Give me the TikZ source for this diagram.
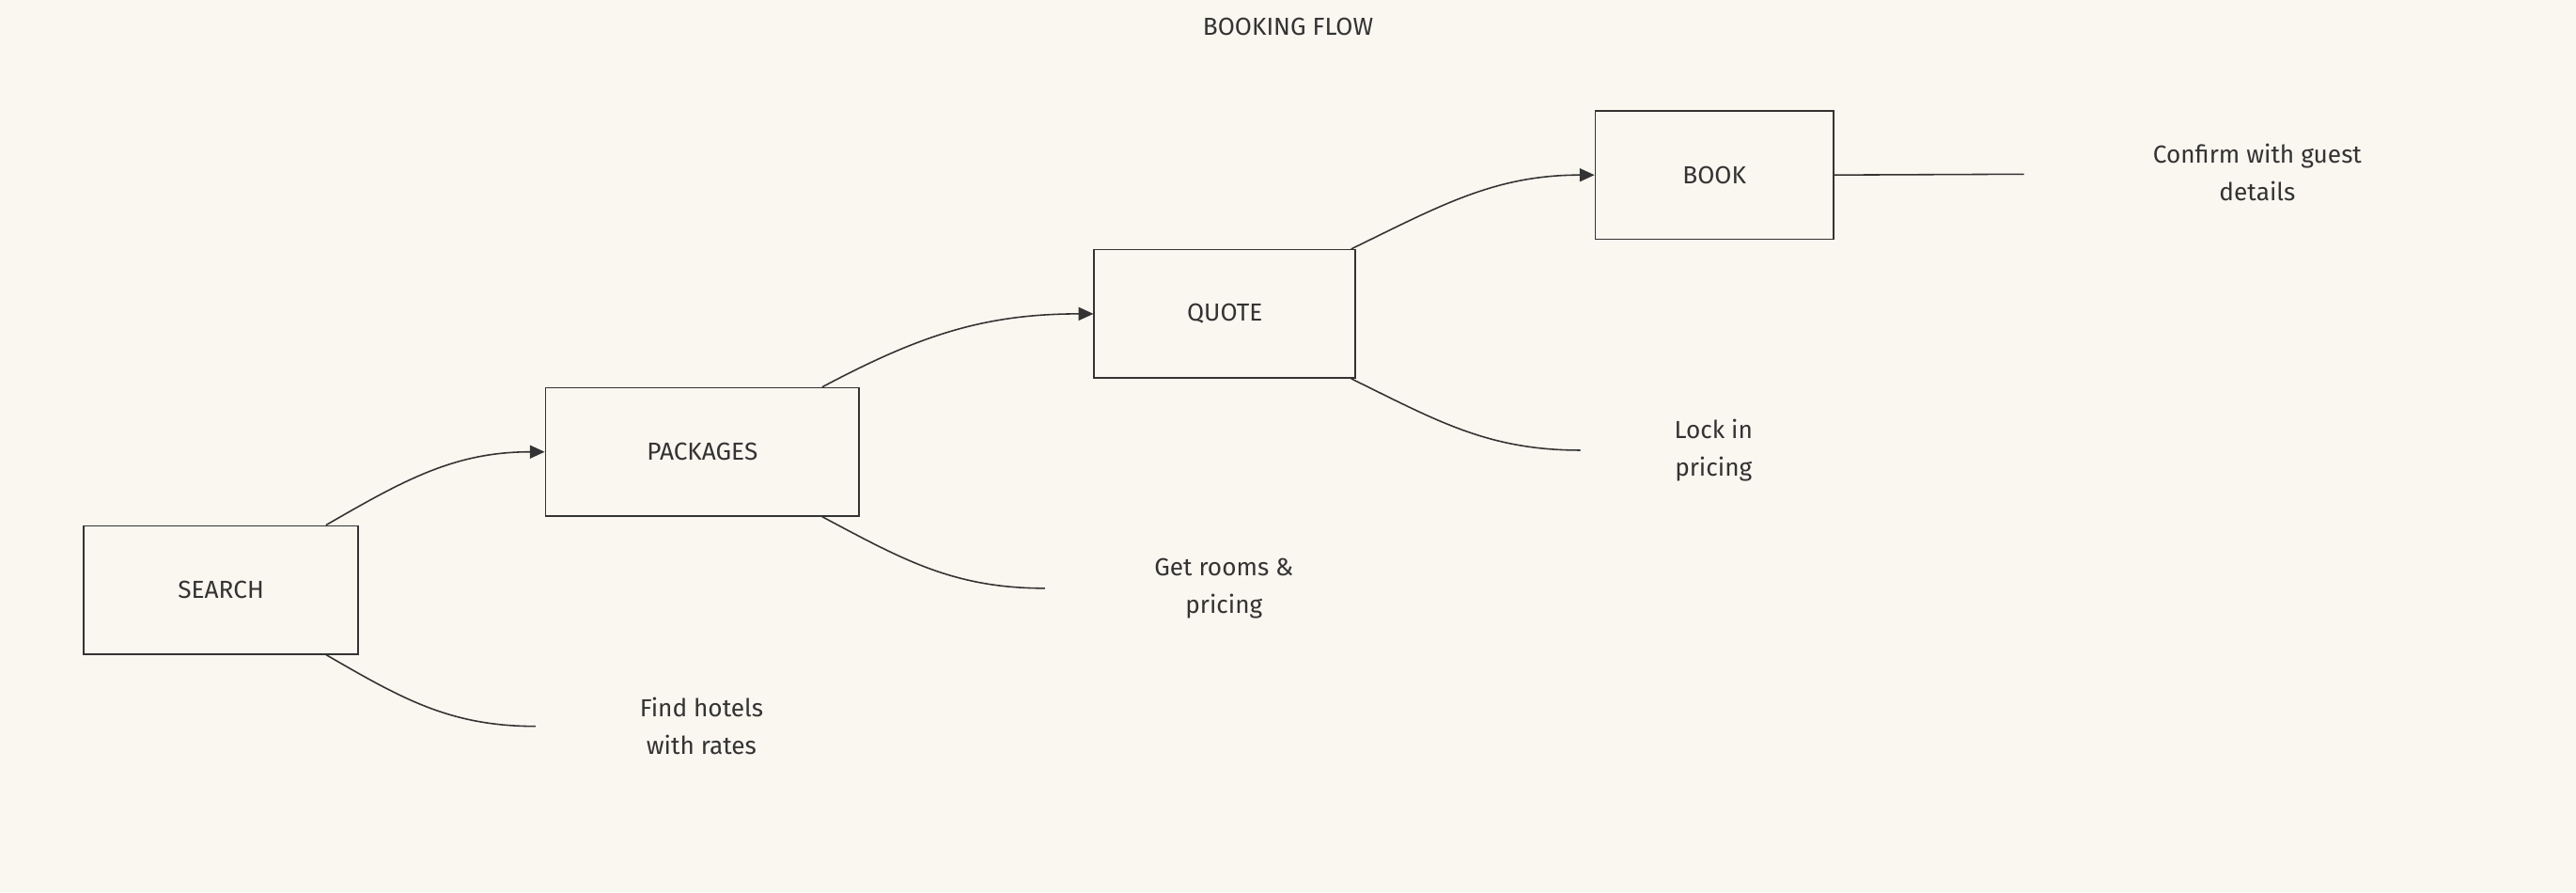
\documentclass[tikz,border=0pt]{standalone}
\usepackage{fontspec}
\setmainfont{Fira Sans}
\usetikzlibrary{arrows.meta}
\definecolor{bg}{HTML}{FAF6F0}
\definecolor{ink}{HTML}{333333}
\begin{document}
\begin{tikzpicture}[x=1pt,y=-1pt,
  box/.style={draw=ink,line width=0.9pt,minimum height=78pt,inner sep=0pt,text=ink,font=\fontsize{15}{18}\selectfont},
  lbl/.style={text=ink,align=center,font=\fontsize{15}{23}\selectfont},
  ln/.style={draw=ink,line width=0.9pt},
  arr/.style={ln,-{Triangle[length=9pt,width=8pt]}}]
\fill[bg] (0,0) rectangle (1568,543);
\useasboundingbox (0,0) rectangle (1568,543);
\node[text=ink,font=\fontsize{15}{18}\selectfont] (title) at (784,16) {BOOKING FLOW};
\node[box,minimum width=167pt] (s) at (134.5,359) {SEARCH};
\node[box,minimum width=191pt] (p) at (427.5,275) {PACKAGES};
\node[box,minimum width=159pt] (q) at (745.5,191) {QUOTE};
\node[box,minimum width=145pt] (b) at (1043.5,106.5) {BOOK};
\node[lbl] (l1) at (427,442) {Find hotels\\with rates};
\node[lbl] (l2) at (745,358) {Get rooms \&\\pricing};
\node[lbl] (l3) at (1043,274) {Lock in\\pricing};
\node[lbl] (l4) at (1374,105) {Confirm with guest\\details};
\coordinate (e1) at (326,442);
\coordinate (e2) at (636,358);
\coordinate (e3) at (962,274);
\coordinate (e4) at (1232,106);
\draw[arr] ([xshift=-20pt]s.north east) to[out=30,in=180] (p.west);
\draw[ln] ([xshift=-20pt]s.south east) to[out=-30,in=180] (e1);
\draw[arr] ([xshift=-23pt]p.north east) to[out=28,in=180] (q.west);
\draw[ln] ([xshift=-23pt]p.south east) to[out=-28,in=180] (e2);
\draw[arr] ([xshift=-3pt]q.north east) to[out=26,in=180] (b.west);
\draw[ln] ([xshift=-3pt]q.south east) to[out=-26,in=180] (e3);
\draw[ln] (b.east) -- (e4);
\end{tikzpicture}
\end{document}
